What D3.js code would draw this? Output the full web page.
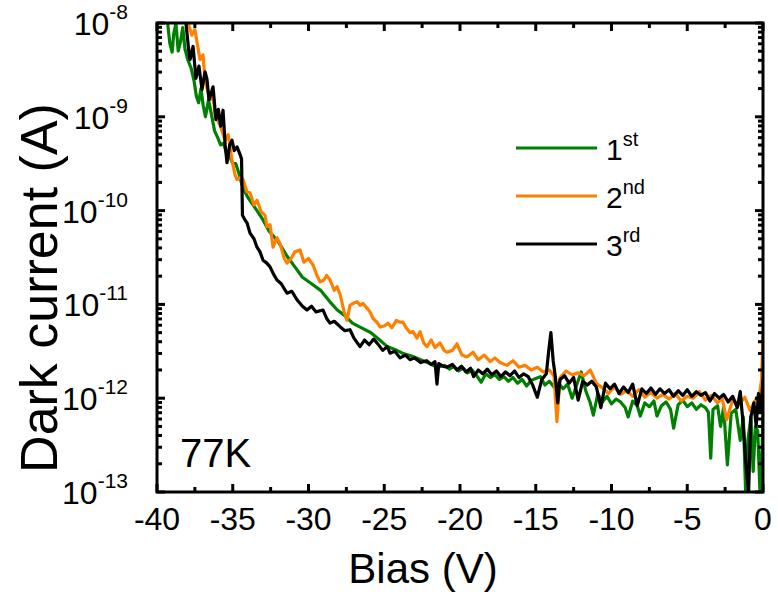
<!DOCTYPE html>
<html>
<head>
<meta charset="utf-8">
<script src="https://cdn.jsdelivr.net/npm/d3@7"></script>
<style>
  body { margin: 0; background: #fff; }
  svg text { font-family: Arial, "Liberation Sans", sans-serif; fill: #000; }
</style>
</head>
<body>
<div class="chart"></div>
<script>
// data: bias (V) and log10 of dark current (A)
var bias1 = [-39.3,-39.15,-39.0,-38.9,-38.75,-38.6,-38.45,-38.3,-38.15,-37.95,-37.75,-37.55,-37.4,-37.25,-37.1,-36.95,-36.8,-36.6,-36.4,-36.2,-36.0,-35.8,-35.6,-35.4,-35.2,-35.0,-34.8,-34.6,-34.4,-34.2,-34.0,-33.7,-33.4,-33.0,-32.6,-32.0,-31.4,-30.9,-30.4,-29.8,-29.2,-28.6,-28.1,-27.6,-27.1,-26.5,-25.9,-25.3,-24.8,-24.3,-23.8,-23.2,-22.6,-22.0,-21.5,
  -21.0,-20.7,-20.4,-20.1,-19.8,-19.5,-19.2,-18.9,-18.6,-18.3,-18.0,-17.7,-17.4,-17.1,-16.8,-16.5,-16.2,-15.9,-15.6,-15.3,-15.0,-14.7,-14.4,-14.1,-13.8,-13.5,-13.2,-12.9,-12.6,-12.3,-12.0,-11.7,-11.4,-11.2,-10.9,-10.6,-10.3,-10.0,-9.7,-9.4,-9.1,-8.9,-8.6,-8.3,-8.1,-7.8,-7.5,-7.2,-7.0,-6.7,-6.4,-6.1,-5.9,-5.6,-5.3,-5.0,-4.7,-4.4,-4.1,-3.8,-3.6,-3.45,-3.3,-3.0,-2.8,-2.6,-2.35,-2.1,-1.8,-1.5,-1.3,-1.15,-1.0,-0.8,-0.65,-0.5,-0.35,-0.2,-0.05,0.0];
var logI1 = [-8.00,-8.22,-8.31,-8.12,-8.00,-8.30,-8.20,-8.05,-8.28,-8.40,-8.48,-8.62,-8.78,-8.85,-8.70,-8.88,-9.00,-8.82,-8.98,-9.15,-9.22,-9.30,-9.28,-9.40,-9.42,-9.50,-9.50,-9.60,-9.72,-9.80,-9.86,-9.93,-10.00,-10.10,-10.22,-10.33,-10.49,-10.60,-10.71,-10.78,-10.85,-10.97,-11.06,-11.12,-11.20,-11.25,-11.30,-11.38,-11.45,-11.48,-11.52,-11.55,-11.59,-11.63,-11.67,
  -11.65,-11.69,-11.66,-11.71,-11.68,-11.73,-11.70,-11.76,-11.83,-11.74,-11.78,-11.75,-11.80,-11.77,-11.82,-11.78,-11.84,-11.80,-11.87,-11.81,-11.79,-11.77,-11.86,-11.82,-11.88,-11.84,-11.90,-11.85,-12.00,-11.86,-11.72,-11.92,-12.05,-12.18,-11.95,-12.04,-11.98,-12.06,-12.01,-12.04,-12.10,-12.20,-12.03,-12.08,-12.19,-12.05,-12.09,-12.03,-12.19,-12.08,-12.04,-12.12,-12.32,-12.07,-12.02,-12.09,-12.05,-12.12,-12.07,-12.10,-12.15,-12.64,-12.12,-12.08,-12.30,-12.10,-12.71,-12.16,-12.12,-12.45,-12.20,-12.98,-12.45,-12.20,-12.78,-12.30,-12.35,-13.00,-12.50,-12.05];

var bias2 = [-37.95,-37.7,-37.5,-37.16,-36.96,-36.83,-36.5,-36.3,-36.17,-35.84,-35.51,-35.3,-35.05,-34.85,-34.72,-34.52,-34.32,-34.06,-33.86,-33.6,-33.4,-33.13,-32.87,-32.74,-32.54,-32.34,-32.08,-31.88,-31.6,-31.42,-31.15,-30.9,-30.56,-30.3,-30.0,-29.7,-29.44,-29.24,-28.98,-28.8,-28.58,-28.3,-28.12,-27.9,-27.65,-27.46,-27.26,-27.06,-26.8,-26.6,-26.4,-26.14,-25.94,-25.74,-25.48,-25.28,-25.0,-24.75,-24.5,-24.2,-23.96,-23.76,-23.55,-23.3,-23.1,-22.84,-22.64,-22.4,-22.18,-21.9,-21.65,-21.32,-21.05,-20.86,
  -20.5,-20.2,-19.87,-19.54,-19.14,-18.8,-18.4,-18.0,-17.7,-17.36,-16.9,-16.5,-16.1,-15.7,-15.3,-14.9,-14.5,-14.1,-13.8,-13.6,-13.4,-13.0,-12.6,-12.2,-11.8,-11.4,-11.0,-10.6,-10.2,-9.8,-9.4,-9.0,-8.6,-8.2,-7.8,-7.4,-7.0,-6.6,-6.2,-5.8,-5.4,-5.0,-4.6,-4.2,-3.8,-3.4,-3.0,-2.7,-2.4,-2.0,-1.6,-1.2,-0.85,-0.5,-0.25,-0.1,0.0];
var logI2 = [-8.00,-8.13,-8.07,-8.39,-8.34,-8.61,-8.82,-8.77,-8.98,-9.09,-9.25,-9.19,-9.46,-9.62,-9.67,-9.65,-9.67,-9.80,-9.81,-9.94,-9.89,-10.01,-10.05,-10.17,-10.15,-10.39,-10.29,-10.35,-10.51,-10.56,-10.51,-10.44,-10.42,-10.55,-10.51,-10.58,-10.69,-10.76,-10.74,-10.69,-10.74,-10.85,-10.81,-10.90,-11.08,-11.17,-11.01,-10.99,-10.97,-11.01,-10.99,-11.04,-11.08,-11.15,-11.19,-11.24,-11.23,-11.20,-11.25,-11.17,-11.19,-11.19,-11.25,-11.30,-11.29,-11.36,-11.29,-11.41,-11.45,-11.38,-11.46,-11.41,-11.49,-11.51,
  -11.49,-11.42,-11.54,-11.56,-11.51,-11.59,-11.54,-11.61,-11.57,-11.62,-11.65,-11.60,-11.67,-11.65,-11.70,-11.67,-11.72,-11.70,-11.76,-12.25,-11.78,-11.71,-11.75,-11.73,-11.76,-11.70,-11.84,-11.89,-11.95,-11.88,-11.96,-11.92,-11.98,-11.91,-11.99,-11.94,-12.00,-11.96,-12.01,-11.95,-12.03,-11.98,-12.00,-11.93,-12.02,-11.97,-12.05,-12.00,-12.23,-12.02,-12.07,-11.99,-12.13,-12.02,-11.97,-11.81,-11.33];

var bias3 = [-38.09,-37.9,-37.82,-37.62,-37.43,-37.23,-37.03,-36.83,-36.7,-36.57,-36.3,-36.11,-35.95,-35.8,-35.64,-35.5,-35.38,-35.2,-35.05,-34.9,-34.72,-34.52,-34.42,-34.36,-34.19,-34.06,-33.86,-33.6,-33.4,-33.2,-33.0,-32.75,-32.54,-32.3,-32.08,-31.8,-31.42,-31.1,-30.76,-30.4,-30.1,-29.8,-29.5,-29.04,-28.8,-28.58,-28.3,-27.9,-27.6,-27.26,-27.0,-26.6,-26.3,-26.0,-25.7,-25.48,-25.1,-24.8,-24.62,-24.3,-23.96,-23.6,-23.3,-23.0,-22.6,-22.2,-21.9,-21.65,-21.52,-21.4,-21.1,
  -20.86,-20.5,-20.2,-19.9,-19.6,-19.3,-19.1,-18.8,-18.5,-18.2,-17.9,-17.6,-17.3,-17.0,-16.7,-16.4,-16.1,-15.8,-15.5,-15.2,-14.9,-14.6,-14.3,-14.15,-14.0,-13.85,-13.7,-13.55,-13.4,-13.1,-12.8,-12.5,-12.2,-11.9,-11.6,-11.3,-11.0,-10.7,-10.4,-10.1,-9.8,-9.5,-9.2,-8.9,-8.6,-8.3,-8.0,-7.7,-7.4,-7.1,-6.8,-6.5,-6.2,-5.9,-5.6,-5.3,-5.0,-4.7,-4.4,-4.1,-3.8,-3.5,-3.2,-2.9,-2.6,-2.3,-2.0,-1.7,-1.5,-1.3,-1.1,-0.95,-0.8,-0.6,-0.45,-0.3,-0.15,0.0];
var logI3 = [-8.00,-8.30,-8.39,-8.25,-8.59,-8.46,-8.71,-8.52,-8.60,-8.82,-8.68,-9.03,-8.92,-9.10,-8.93,-9.30,-9.49,-9.30,-9.25,-9.36,-9.32,-9.40,-9.45,-10.05,-10.10,-10.13,-10.24,-10.30,-10.39,-10.44,-10.53,-10.56,-10.60,-10.68,-10.74,-10.78,-10.88,-10.86,-10.95,-11.02,-11.06,-11.02,-11.08,-11.06,-11.15,-11.20,-11.18,-11.24,-11.28,-11.27,-11.36,-11.45,-11.38,-11.43,-11.37,-11.41,-11.49,-11.45,-11.52,-11.50,-11.57,-11.54,-11.59,-11.57,-11.62,-11.60,-11.64,-11.61,-11.85,-11.63,-11.66,
  -11.67,-11.64,-11.70,-11.66,-11.72,-11.68,-11.77,-11.70,-11.74,-11.69,-11.75,-11.71,-11.77,-11.72,-11.76,-11.71,-11.78,-11.74,-11.77,-11.86,-11.99,-11.80,-11.74,-11.50,-11.30,-11.60,-11.78,-12.05,-11.80,-11.76,-11.84,-11.78,-12.02,-11.82,-11.86,-11.82,-11.88,-12.10,-11.84,-11.90,-11.85,-11.95,-11.88,-11.94,-11.85,-12.08,-11.90,-11.95,-11.89,-11.96,-11.90,-11.95,-11.91,-11.98,-11.92,-11.97,-11.91,-11.98,-11.93,-11.97,-11.94,-12.03,-11.95,-12.00,-11.96,-12.04,-11.98,-12.10,-11.93,-12.30,-12.75,-13.00,-12.20,-12.05,-12.30,-11.95,-12.15,-11.80];

var seriesNames = ["1", "2", "3"];
var seriesSup = ["st", "nd", "rd"];
var seriesColors = ["#008000", "#ff8000", "#000000"];
var xTicks = [-40, -35, -30, -25, -20, -15, -10, -5, 0];
var yTickExps = [-8, -9, -10, -11, -12, -13];

var svgWidth = 778, svgHeight = 595;
var margin = { top: 23, right: 15, bottom: 103, left: 157 };
var width = svgWidth - margin.left - margin.right;
var height = svgHeight - margin.top - margin.bottom;

var svg = d3.select(".chart").append("svg")
  .attr("width", svgWidth)
  .attr("height", svgHeight);

var chartGroup = svg.append("g")
  .attr("transform", `translate(${margin.left}, ${margin.top})`);

var xScale = d3.scaleLinear().domain([-40, 0]).range([0, width]);
var yScale = d3.scaleLog().domain([1e-13, 1e-8]).range([height, 0]);

chartGroup.append("clipPath").attr("id", "clip")
  .append("rect").attr("width", width).attr("height", height);

// curves
var line = d3.line()
  .x(d => xScale(d[0]))
  .y(d => yScale(Math.pow(10, d[1])));

var allSeries = [[bias1, logI1], [bias2, logI2], [bias3, logI3]];
allSeries.forEach(function(s, i) {
  var pts = d3.zip(s[0], s[1]);
  chartGroup.append("path")
    .datum(pts)
    .attr("clip-path", "url(#clip)")
    .attr("d", line)
    .attr("fill", "none")
    .attr("stroke", seriesColors[i])
    .attr("stroke-width", 3.2)
    .attr("stroke-linejoin", "round");
});

// axes: ticks inward on all four sides
var minorX = d3.range(-37.5, 0, 5);
var minorY = [];
yTickExps.slice(1).forEach(function(e) {
  for (var m = 2; m <= 9; m++) minorY.push(m * Math.pow(10, e));
});

function addXAxis(y, dir) {
  var g = chartGroup.append("g");
  g.selectAll(".maj").data(xTicks).enter().append("line")
    .attr("x1", d => xScale(d)).attr("x2", d => xScale(d))
    .attr("y1", y).attr("y2", y + dir * 8);
  g.selectAll(".min").data(minorX).enter().append("line")
    .attr("x1", d => xScale(d)).attr("x2", d => xScale(d))
    .attr("y1", y).attr("y2", y + dir * 5);
  g.selectAll("line").attr("stroke", "#000").attr("stroke-width", 3);
}
function addYAxis(x, dir) {
  var g = chartGroup.append("g");
  g.selectAll(".maj").data(yTickExps).enter().append("line")
    .attr("y1", d => yScale(Math.pow(10, d))).attr("y2", d => yScale(Math.pow(10, d)))
    .attr("x1", x).attr("x2", x + dir * 8);
  g.selectAll(".min").data(minorY).enter().append("line")
    .attr("y1", d => yScale(d)).attr("y2", d => yScale(d))
    .attr("x1", x).attr("x2", x + dir * 5);
  g.selectAll("line").attr("stroke", "#000").attr("stroke-width", 3);
}
addXAxis(height, -1);
addXAxis(0, 1);
addYAxis(0, 1);
addYAxis(width, -1);

chartGroup.append("rect")
  .attr("width", width).attr("height", height)
  .attr("fill", "none").attr("stroke", "#000").attr("stroke-width", 3);

// tick labels
chartGroup.selectAll(".xlab").data(xTicks).enter().append("text")
  .attr("x", d => xScale(d))
  .attr("y", height + 38)
  .attr("text-anchor", "middle")
  .attr("font-size", 32)
  .text(d => d);

var yLab = chartGroup.selectAll(".ylab").data(yTickExps).enter().append("text")
  .attr("x", -29)
  .attr("y", d => yScale(Math.pow(10, d)) + 12)
  .attr("text-anchor", "end")
  .attr("font-size", 32);
yLab.append("tspan").text("10");
yLab.append("tspan").attr("dy", -16).attr("font-size", 21).text(d => d);

// axis titles
svg.append("text")
  .attr("x", 423).attr("y", 583)
  .attr("text-anchor", "middle")
  .attr("font-size", 42)
  .text("Bias (V)");

svg.append("text")
  .attr("transform", "translate(57, 288) rotate(-90)")
  .attr("text-anchor", "middle")
  .attr("font-size", 52)
  .text("Dark current (A)");

// temperature note
svg.append("text")
  .attr("x", 180).attr("y", 467)
  .attr("font-size", 40)
  .text("77K");

// legend
var legend = svg.append("g");
seriesNames.forEach(function(n, i) {
  var ly = 148 + i * 48;
  legend.append("line")
    .attr("x1", 516).attr("x2", 597).attr("y1", ly).attr("y2", ly)
    .attr("stroke", seriesColors[i]).attr("stroke-width", 3.2);
  var t = legend.append("text")
    .attr("x", 606).attr("y", ly + 12)
    .attr("font-size", 30);
  t.append("tspan").text(n);
  t.append("tspan").attr("dy", -14).attr("font-size", 20).text(seriesSup[i]);
});
</script>
</body>
</html>
